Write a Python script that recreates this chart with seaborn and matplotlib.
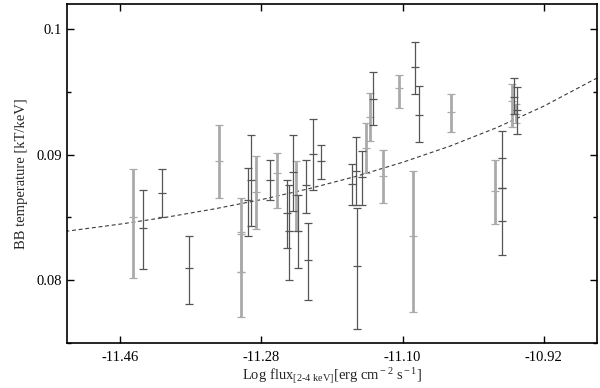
import numpy as np
import pandas as pd
import matplotlib
matplotlib.use("Agg")
import matplotlib.pyplot as plt
import seaborn as sns
from matplotlib.ticker import FixedLocator, MultipleLocator

# ---- data ----
# light-gray error bars: log flux, lower, value, upper
light_x = [-11.4434, -11.3345, -11.3059, -11.3059, -11.2864, -11.2600, -11.2353,
           -11.1463, -11.1421, -11.1246, -11.1051, -11.0863, -11.0387, -10.9817,
           -10.9609, -10.9554]
light_lo = [0.08018, 0.08656, 0.08066, 0.07709, 0.08405, 0.08577, 0.08394,
            0.08852, 0.09111, 0.08617, 0.09368, 0.07748, 0.09177, 0.08447,
            0.09217, 0.09256]
light_y = [0.08506, 0.08947, 0.08383, 0.08066, 0.08704, 0.08855, 0.08680,
           0.09053, 0.09296, 0.08828, 0.09534, 0.08352, 0.09341, 0.08714,
           0.09429, 0.09325]
light_hi = [0.08885, 0.09236, 0.08656, 0.08367, 0.08987, 0.09014, 0.08947,
            0.09256, 0.09490, 0.09037, 0.09633, 0.08868, 0.09487, 0.08958,
            0.09566, 0.09407]

# dark-gray error bars
dark_x = [-11.4315, -11.4068, -11.3728, -11.2975, -11.2937, -11.2694, -11.2474,
          -11.2443, -11.2400, -11.2334, -11.2229, -11.2209, -11.2140, -11.2043,
          -11.1651, -11.1596, -11.1578, -11.1523, -11.1383, -11.0843, -11.0787,
          -10.9727, -10.9727, -10.9574, -10.9536]
dark_lo = [0.08087, 0.08502, 0.07807, 0.08349, 0.08429, 0.08641, 0.08260,
           0.07998, 0.08548, 0.08098, 0.08537, 0.07839, 0.08720, 0.08807,
           0.08601, 0.08603, 0.07609, 0.08601, 0.09236, 0.09487, 0.09098,
           0.08733, 0.08198, 0.09323, 0.09164]
dark_y = [0.08418, 0.08696, 0.08098, 0.08635, 0.08799, 0.08799, 0.08537,
          0.08394, 0.08865, 0.08394, 0.08760, 0.08164, 0.09006, 0.08947,
          0.08767, 0.08873, 0.08113, 0.08820, 0.09447, 0.09698, 0.09315,
          0.08974, 0.08474, 0.09463, 0.09355]
dark_hi = [0.08720, 0.08885, 0.08355, 0.08895, 0.09156, 0.08958, 0.08799,
           0.08760, 0.09156, 0.08680, 0.08958, 0.08458, 0.09283, 0.09077,
           0.08926, 0.09137, 0.08577, 0.09032, 0.09656, 0.09897, 0.09545,
           0.09188, 0.08733, 0.09614, 0.09542]

# fitted curve, points
curve_x = [-11.53, -11.46, -11.40, -11.34, -11.28, -11.22, -11.16, -11.10,
           -11.04, -10.98, -10.92, -10.85]
curve_y = [0.08389, 0.08447, 0.08503, 0.08568, 0.08642, 0.08728, 0.08826,
           0.08939, 0.09067, 0.09215, 0.09386, 0.09617]

x_ticks = [-11.46, -11.28, -11.10, -10.92]
x_tick_labels = ["-11.46", "-11.28", "-11.10", "-10.92"]
y_ticks = [0.08, 0.09, 0.10]
y_tick_labels = ["0.08", "0.09", "0.1"]

# ---- style ----
sns.set_theme(style="ticks")
plt.rcParams["font.family"] = ["Liberation Serif", "DejaVu Serif"]
plt.rcParams["mathtext.fontset"] = "custom"
plt.rcParams["mathtext.rm"] = "Liberation Serif"
plt.rcParams["mathtext.it"] = "Liberation Serif:italic"
plt.rcParams["axes.unicode_minus"] = False

fig = plt.figure(figsize=(6.0, 3.88), dpi=100)
ax = fig.add_axes([0.1117, 0.116, 0.8833, 0.8737])

# fit curve
curve = pd.DataFrame({"x": curve_x, "y": curve_y})
sns.lineplot(data=curve, x="x", y="y", ax=ax, color="#3a3a3a", lw=0.8,
             linestyle=(0, (3.5, 2.5)), zorder=1)

def draw(xs, lo, y, hi, color, lw, z):
    xs = np.array(xs); lo = np.array(lo); y = np.array(y); hi = np.array(hi)
    ax.errorbar(xs, y, yerr=[y - lo, hi - y], fmt="none", ecolor=color,
                elinewidth=lw, capsize=2.9, capthick=0.9, zorder=z)
    sns.scatterplot(x=xs, y=y, ax=ax, marker="_", s=30, color=color,
                    linewidth=0.9, zorder=z + 0.1, legend=False)

draw(light_x, light_lo, light_y, light_hi, "#aaaaaa", 2.0, 2)
draw(dark_x, dark_lo, dark_y, dark_hi, "#555555", 0.9, 3)

ax.set_xlim(-11.528, -10.852)
ax.set_ylim(0.075, 0.102)
ax.xaxis.set_major_locator(FixedLocator(x_ticks))
ax.set_xticklabels(x_tick_labels)
ax.yaxis.set_major_locator(FixedLocator(y_ticks))
ax.set_yticklabels(y_tick_labels)
ax.yaxis.set_minor_locator(MultipleLocator(0.005))

ax.tick_params(which="both", direction="in", top=True, right=True,
               labelsize=10.5, colors="black", width=1.0)
ax.tick_params(which="major", length=5)
ax.tick_params(which="minor", length=3)
ax.tick_params(axis="x", pad=6)
for s in ax.spines.values():
    s.set_linewidth(1.2)
    s.set_color("black")

ax.set_xlabel(r"Log flux$_{\rm [2\text{-}4\ keV]}$[erg cm$^{\rm -2}$ s$^{\rm -1}$]",
              fontsize=10.5, labelpad=1)
ax.set_ylabel("BB temperature [kT/keV]", fontsize=10.5, labelpad=6)

fig.savefig("out.png", dpi=100)
